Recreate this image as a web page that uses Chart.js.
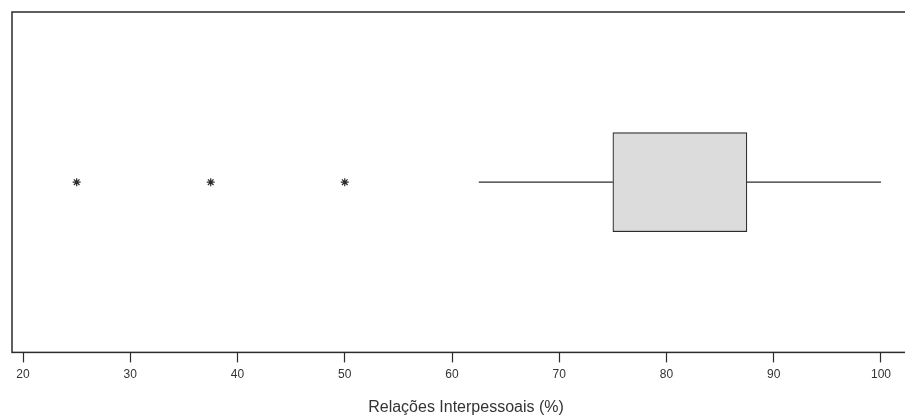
<!DOCTYPE html>
<html>
<head>
<meta charset="utf-8">
<script src="https://cdn.jsdelivr.net/npm/chart.js@4"></script>
<style>
  html, body { margin: 0; padding: 0; background: #fff; overflow: hidden; }
  #wrap { width: 930px; height: 417px; }
</style>
</head>
<body>
<div id="wrap"><canvas id="boxChart"></canvas></div>
<script>
// box plot summary
const whiskerLow = 62.5;
const q1 = 75;
const q3 = 87.5;
const whiskerHigh = 100;
const outliers = [25, 37.5, 50];
const tickValues = [20, 30, 40, 50, 60, 70, 80, 90, 100];
const axisTitle = "Relações Interpessoais (%)";

const ink = "#2b2b2b";

// draws the frame around the plot area
const framePlugin = {
    id: "frame",
    afterDraw(chart) {
        const a = chart.chartArea;
        const c = chart.ctx;
        c.save();
        c.strokeStyle = ink;
        c.lineWidth = 1.5;
        c.strokeRect(a.left, a.top, a.right - a.left, a.bottom - a.top);
        c.restore();
    },
};

new Chart(document.getElementById("boxChart").getContext("2d"), {
    type: "bar",
    data: {
        datasets: [
            {
                type: "bar",
                data: [{ x: [q1, q3], y: 0 }],
                backgroundColor: "#dcdcdc",
                borderColor: ink,
                borderWidth: 1.2,
                borderSkipped: false,
                barThickness: 99,
                order: 1,
            },
            {
                type: "line",
                data: [{ x: whiskerLow, y: 0 }, { x: q1, y: 0 }],
                borderColor: ink,
                borderWidth: 1.2,
                pointRadius: 0,
                order: 2,
            },
            {
                type: "line",
                data: [{ x: q3, y: 0 }, { x: whiskerHigh, y: 0 }],
                borderColor: ink,
                borderWidth: 1.2,
                pointRadius: 0,
                order: 2,
            },
            {
                type: "scatter",
                data: outliers.map((v) => ({ x: v, y: 0 })),
                pointStyle: "star",
                pointRadius: 4,
                borderColor: ink,
                borderWidth: 1.2,
                order: 0,
            },
        ],
    },
    options: {
        indexAxis: "y",
        responsive: true,
        maintainAspectRatio: false,
        animation: false,
        layout: { padding: { left: 12, top: 12, right: 10, bottom: 0 } },
        plugins: {
            legend: { display: false },
            tooltip: { enabled: false },
        },
        scales: {
            x: {
                type: "linear",
                min: 18.97,
                max: 103.64,
                afterBuildTicks(scale) {
                    scale.ticks = tickValues.map((v) => ({ value: v }));
                },
                grid: {
                    drawOnChartArea: false,
                    drawTicks: true,
                    tickLength: 10,
                    tickColor: ink,
                    tickWidth: 1.2,
                },
                border: { display: false },
                ticks: {
                    color: "#333",
                    font: { family: "Liberation Sans", size: 12 },
                    padding: 5,
                    maxRotation: 0,
                },
                title: {
                    display: true,
                    text: axisTitle,
                    color: "#333",
                    font: { family: "Liberation Sans", size: 16 },
                    padding: { top: 11, bottom: 0 },
                },
            },
            y: {
                type: "linear",
                display: false,
                min: -1,
                max: 1,
            },
        },
    },
    plugins: [framePlugin],
});
</script>
</body>
</html>
